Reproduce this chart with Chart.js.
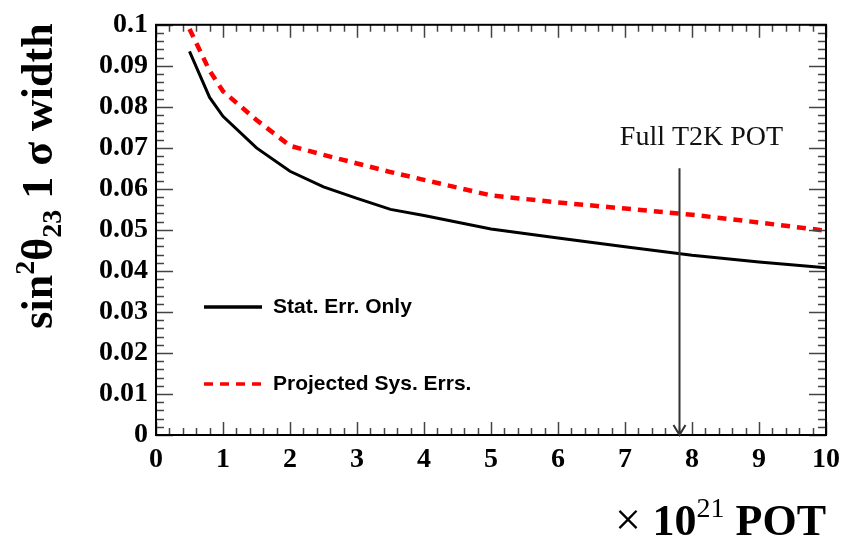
<!DOCTYPE html>
<html>
<head>
<meta charset="utf-8">
<script src="https://cdn.jsdelivr.net/npm/chart.js@4.4.0/dist/chart.umd.min.js"></script>
<style>
  body { margin: 0; background: #fff; }
</style>
</head>
<body>
<canvas id="sensChart" width="848" height="544"></canvas>
<script>
// exposure in units of 1e21 POT
const potValues = [0.5, 0.8, 1, 1.5, 2, 2.5, 3, 3.5, 4, 5, 6, 7, 8, 9, 10];
// 1 sigma width of sin^2 theta23
const statOnly = [0.0935, 0.0823, 0.0777, 0.0700, 0.0643, 0.0605, 0.0577, 0.0550, 0.0535, 0.0502, 0.0480, 0.0459, 0.0438, 0.0422, 0.0408];
const withSys = [0.0990, 0.0888, 0.0838, 0.0768, 0.0705, 0.0683, 0.0662, 0.0641, 0.0622, 0.0584, 0.0567, 0.0552, 0.0537, 0.0518, 0.0498];
const seriesNames = ["Stat. Err. Only", "Projected Sys. Errs."];

const xTickLabels = ["0", "1", "2", "3", "4", "5", "6", "7", "8", "9", "10"];
const yTickLabels = ["0", "0.01", "0.02", "0.03", "0.04", "0.05", "0.06", "0.07", "0.08", "0.09", "0.1"];

const fullPot = 7.8;
const arrowFrom = 0.065;
const arrowText = "Full T2K POT";

const serif = "'Liberation Serif', 'Times New Roman', serif";

// frame, inward ticks, titles, legend and arrow
const decorations = {
  id: "decorations",
  afterDatasetsDraw(chart) {
    const ctx = chart.ctx;
    const a = chart.chartArea;
    const xs = chart.scales.x, ys = chart.scales.y;
    ctx.save();

    // ticks
    ctx.strokeStyle = "#444";
    ctx.lineWidth = 1.5;
    ctx.beginPath();
    for (let i = 0; i <= 50; i++) {
      const px = Math.round(xs.getPixelForValue(i * 0.2)) + 0.5;
      const len = i % 5 === 0 ? 13 : 7;
      ctx.moveTo(px, a.bottom); ctx.lineTo(px, a.bottom - len);
      ctx.moveTo(px, a.top); ctx.lineTo(px, a.top + len);
    }
    for (let i = 0; i <= 50; i++) {
      const py = Math.round(ys.getPixelForValue(i * 0.002)) + 0.5;
      const len = i % 5 === 0 ? 17 : 8;
      ctx.moveTo(a.left, py); ctx.lineTo(a.left + len, py);
      ctx.moveTo(a.right, py); ctx.lineTo(a.right - len, py);
    }
    ctx.stroke();

    // frame
    ctx.strokeStyle = "#000";
    ctx.lineWidth = 2;
    ctx.strokeRect(a.left, a.top, a.right - a.left, a.bottom - a.top);

    // arrow to full POT
    const ax = Math.round(xs.getPixelForValue(fullPot)) + 0.5;
    const ay0 = ys.getPixelForValue(arrowFrom);
    const ay1 = ys.getPixelForValue(0);
    ctx.strokeStyle = "#333";
    ctx.lineWidth = 2;
    ctx.beginPath();
    ctx.moveTo(ax, ay0); ctx.lineTo(ax, ay1);
    ctx.moveTo(ax - 6, ay1 - 10); ctx.lineTo(ax, ay1); ctx.lineTo(ax + 6, ay1 - 10);
    ctx.stroke();
    ctx.fillStyle = "#111";
    ctx.font = "28px " + serif;
    ctx.textAlign = "center";
    ctx.textBaseline = "alphabetic";
    ctx.fillText(arrowText, ax + 22, 145);

    // legend
    const legendRows = [
      { y: 307, color: "#000", dash: [] },
      { y: 384, color: "#ff0000", dash: [9, 7] }
    ];
    ctx.font = "bold 21px 'Liberation Sans', Arial, sans-serif";
    ctx.textAlign = "left";
    ctx.textBaseline = "middle";
    legendRows.forEach((row, i) => {
      ctx.strokeStyle = row.color;
      ctx.lineWidth = 3.5;
      ctx.setLineDash(row.dash);
      ctx.beginPath();
      ctx.moveTo(204, row.y); ctx.lineTo(262, row.y);
      ctx.stroke();
      ctx.setLineDash([]);
      ctx.fillStyle = "#000";
      ctx.fillText(seriesNames[i], 273, row.y);
    });

    // y title (rotated)
    const big = "bold 44px " + serif;
    const small = "bold 28px " + serif;
    const yParts = [
      { t: "sin", f: big, dy: 0 },
      { t: "2", f: small, dy: -18 },
      { t: "\u03b8", f: big, dy: 0 },
      { t: "23", f: small, dy: 9 },
      { t: " 1 \u03c3 width", f: big, dy: 0 }
    ];
    let total = 0;
    yParts.forEach(p => { ctx.font = p.f; total += ctx.measureText(p.t).width; });
    ctx.save();
    ctx.translate(52, 176);
    ctx.rotate(-Math.PI / 2);
    ctx.textAlign = "left";
    ctx.textBaseline = "alphabetic";
    let cx = -total / 2;
    yParts.forEach(p => {
      ctx.font = p.f;
      ctx.fillText(p.t, cx, p.dy);
      cx += ctx.measureText(p.t).width;
    });
    ctx.restore();

    // x title
    const xParts = [
      { t: "\u00d7 ", f: "46px " + serif, dy: 0 },
      { t: "10", f: big, dy: 0 },
      { t: "21", f: "28px " + serif, dy: -18 },
      { t: " POT", f: big, dy: 0 }
    ];
    let xw = 0;
    xParts.forEach(p => { ctx.font = p.f; xw += ctx.measureText(p.t).width; });
    let tx = 826 - xw;
    ctx.textAlign = "left";
    ctx.textBaseline = "alphabetic";
    xParts.forEach(p => {
      ctx.font = p.f;
      ctx.fillText(p.t, tx, 535 + p.dy);
      tx += ctx.measureText(p.t).width;
    });

    ctx.restore();
  }
};

const config = {
  type: "line",
  data: {
    datasets: [
      {
        label: seriesNames[0],
        data: potValues.map((x, i) => ({ x, y: statOnly[i] })),
        borderColor: "#000",
        borderWidth: 3,
        pointRadius: 0,
        tension: 0
      },
      {
        label: seriesNames[1],
        data: potValues.map((x, i) => ({ x, y: withSys[i] })),
        borderColor: "#ff0000",
        borderWidth: 4.5,
        borderDash: [9, 7],
        pointRadius: 0,
        tension: 0
      }
    ]
  },
  options: {
    responsive: false,
    animation: false,
    layout: { padding: { top: 21, right: 20, left: 0, bottom: 0 } },
    plugins: { legend: { display: false }, tooltip: { enabled: false } },
    scales: {
      x: {
        type: "linear",
        min: 0,
        max: 10,
        ticks: {
          stepSize: 1,
          padding: 8,
          color: "#000",
          font: { family: serif, weight: "bold", size: 28 },
          callback: (v, i) => xTickLabels[i]
        },
        grid: { display: false, drawTicks: false },
        border: { display: false },
        afterFit: s => { s.height = 109; }
      },
      y: {
        min: 0,
        max: 0.1,
        ticks: {
          stepSize: 0.01,
          padding: 8,
          color: "#000",
          font: { family: serif, weight: "bold", size: 28 },
          callback: (v, i) => yTickLabels[i]
        },
        grid: { display: false, drawTicks: false },
        border: { display: false },
        afterFit: s => { s.width = 156; }
      }
    }
  },
  plugins: [decorations]
};

const sensChart = new Chart(document.getElementById("sensChart"), config);
</script>
</body>
</html>
